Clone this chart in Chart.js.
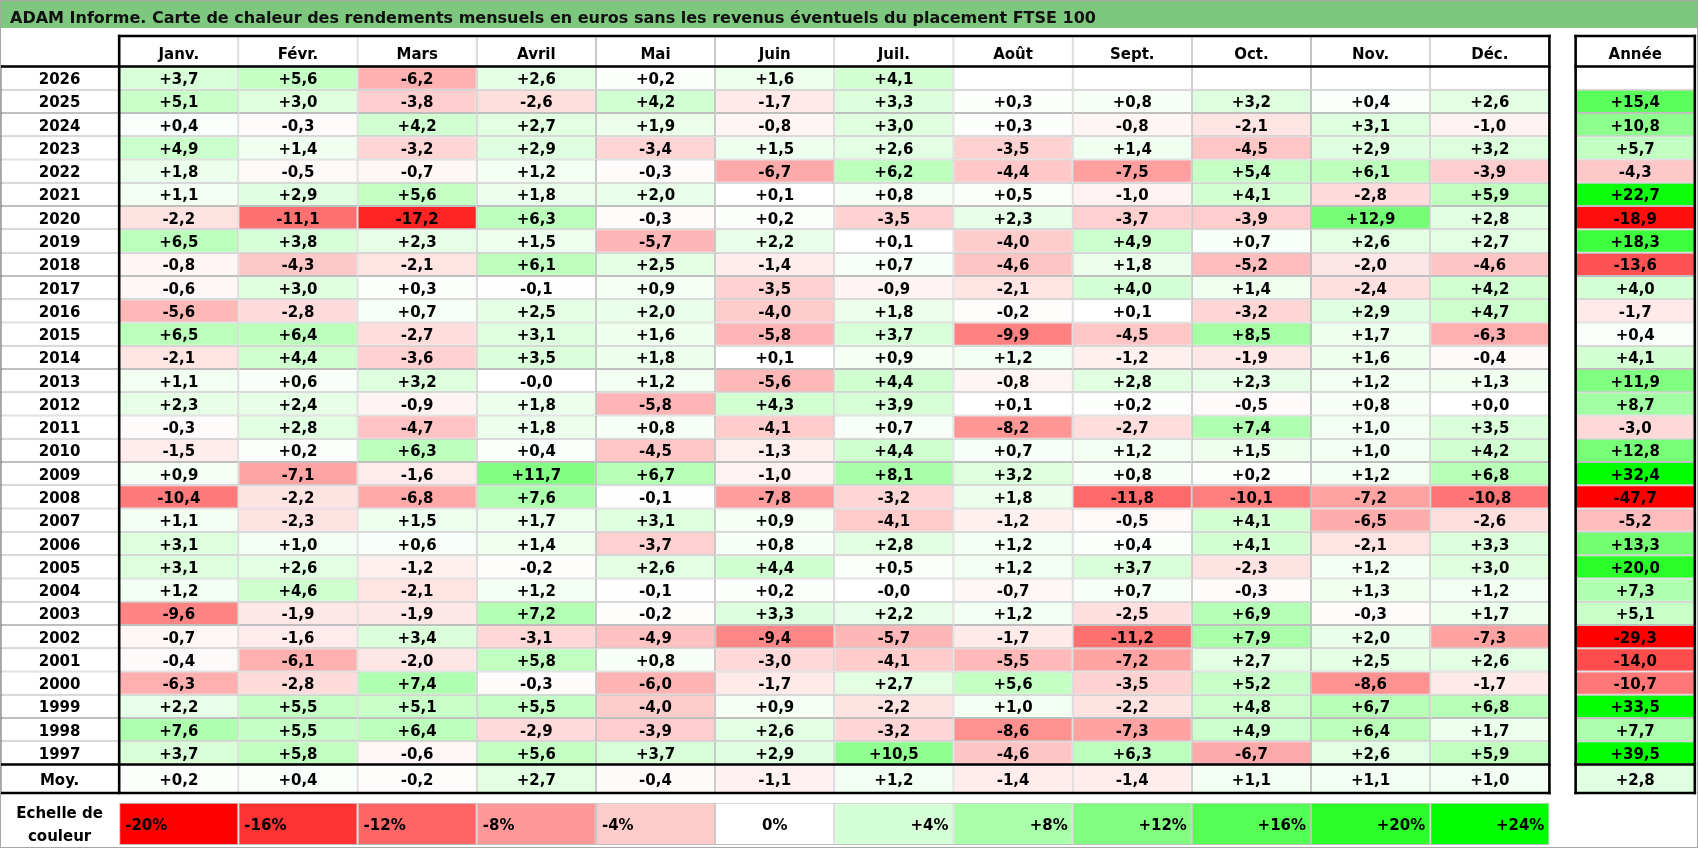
<!DOCTYPE html>
<html lang="fr">
<head>
<meta charset="utf-8">
<title>ADAM Informe - FTSE 100</title>
<script src="https://cdn.jsdelivr.net/npm/chart.js@4.4.1/dist/chart.umd.min.js"></script>
<style>
  html, body { margin: 0; padding: 0; background: #fff; }
  #wrap { width: 1698px; height: 848px; position: relative; }
</style>
</head>
<body>
<div id="wrap"><canvas id="heat"></canvas></div>
<script>
// Texts
const titleText = 'ADAM Informe. Carte de chaleur des rendements mensuels en euros sans les revenus éventuels du placement FTSE 100';
const months = ['Janv.', 'Févr.', 'Mars', 'Avril', 'Mai', 'Juin', 'Juil.', 'Août', 'Sept.', 'Oct.', 'Nov.', 'Déc.'];
const yearHeader = 'Année';
const avgLabel = 'Moy.';
const scaleLabel = 'Echelle de\ncouleur';

// Rows, newest first
const years = [
	2026, 2025, 2024, 2023, 2022, 2021, 2020, 2019, 2018, 2017,
	2016, 2015, 2014, 2013, 2012, 2011, 2010, 2009, 2008, 2007,
	2006, 2005, 2004, 2003, 2002, 2001, 2000, 1999, 1998, 1997,
];

// Monthly returns in %, one line per year (null = not yet known)
const monthly = [
	[3.7, 5.6, -6.2, 2.6, 0.2, 1.6, 4.1, null, null, null, null, null],
	[5.1, 3.0, -3.8, -2.6, 4.2, -1.7, 3.3, 0.3, 0.8, 3.2, 0.4, 2.6],
	[0.4, -0.3, 4.2, 2.7, 1.9, -0.8, 3.0, 0.3, -0.8, -2.1, 3.1, -1.0],
	[4.9, 1.4, -3.2, 2.9, -3.4, 1.5, 2.6, -3.5, 1.4, -4.5, 2.9, 3.2],
	[1.8, -0.5, -0.7, 1.2, -0.3, -6.7, 6.2, -4.4, -7.5, 5.4, 6.1, -3.9],
	[1.1, 2.9, 5.6, 1.8, 2.0, 0.1, 0.8, 0.5, -1.0, 4.1, -2.8, 5.9],
	[-2.2, -11.1, -17.2, 6.3, -0.3, 0.2, -3.5, 2.3, -3.7, -3.9, 12.9, 2.8],
	[6.5, 3.8, 2.3, 1.5, -5.7, 2.2, 0.1, -4.0, 4.9, 0.7, 2.6, 2.7],
	[-0.8, -4.3, -2.1, 6.1, 2.5, -1.4, 0.7, -4.6, 1.8, -5.2, -2.0, -4.6],
	[-0.6, 3.0, 0.3, -0.1, 0.9, -3.5, -0.9, -2.1, 4.0, 1.4, -2.4, 4.2],
	[-5.6, -2.8, 0.7, 2.5, 2.0, -4.0, 1.8, -0.2, 0.1, -3.2, 2.9, 4.7],
	[6.5, 6.4, -2.7, 3.1, 1.6, -5.8, 3.7, -9.9, -4.5, 8.5, 1.7, -6.3],
	[-2.1, 4.4, -3.6, 3.5, 1.8, 0.1, 0.9, 1.2, -1.2, -1.9, 1.6, -0.4],
	[1.1, 0.6, 3.2, -0.0, 1.2, -5.6, 4.4, -0.8, 2.8, 2.3, 1.2, 1.3],
	[2.3, 2.4, -0.9, 1.8, -5.8, 4.3, 3.9, 0.1, 0.2, -0.5, 0.8, 0.0],
	[-0.3, 2.8, -4.7, 1.8, 0.8, -4.1, 0.7, -8.2, -2.7, 7.4, 1.0, 3.5],
	[-1.5, 0.2, 6.3, 0.4, -4.5, -1.3, 4.4, 0.7, 1.2, 1.5, 1.0, 4.2],
	[0.9, -7.1, -1.6, 11.7, 6.7, -1.0, 8.1, 3.2, 0.8, 0.2, 1.2, 6.8],
	[-10.4, -2.2, -6.8, 7.6, -0.1, -7.8, -3.2, 1.8, -11.8, -10.1, -7.2, -10.8],
	[1.1, -2.3, 1.5, 1.7, 3.1, 0.9, -4.1, -1.2, -0.5, 4.1, -6.5, -2.6],
	[3.1, 1.0, 0.6, 1.4, -3.7, 0.8, 2.8, 1.2, 0.4, 4.1, -2.1, 3.3],
	[3.1, 2.6, -1.2, -0.2, 2.6, 4.4, 0.5, 1.2, 3.7, -2.3, 1.2, 3.0],
	[1.2, 4.6, -2.1, 1.2, -0.1, 0.2, -0.0, -0.7, 0.7, -0.3, 1.3, 1.2],
	[-9.6, -1.9, -1.9, 7.2, -0.2, 3.3, 2.2, 1.2, -2.5, 6.9, -0.3, 1.7],
	[-0.7, -1.6, 3.4, -3.1, -4.9, -9.4, -5.7, -1.7, -11.2, 7.9, 2.0, -7.3],
	[-0.4, -6.1, -2.0, 5.8, 0.8, -3.0, -4.1, -5.5, -7.2, 2.7, 2.5, 2.6],
	[-6.3, -2.8, 7.4, -0.3, -6.0, -1.7, 2.7, 5.6, -3.5, 5.2, -8.6, -1.7],
	[2.2, 5.5, 5.1, 5.5, -4.0, 0.9, -2.2, 1.0, -2.2, 4.8, 6.7, 6.8],
	[7.6, 5.5, 6.4, -2.9, -3.9, 2.6, -3.2, -8.6, -7.3, 4.9, 6.4, 1.7],
	[3.7, 5.8, -0.6, 5.6, 3.7, 2.9, 10.5, -4.6, 6.3, -6.7, 2.6, 5.9],
];

// Yearly returns in %
const annual = [
	null, 15.4, 10.8, 5.7, -4.3, 22.7, -18.9, 18.3, -13.6, 4.0,
	-1.7, 0.4, 4.1, 11.9, 8.7, -3.0, 12.8, 32.4, -47.7, -5.2,
	13.3, 20.0, 7.3, 5.1, -29.3, -14.0, -10.7, 33.5, 7.7, 39.5,
];

// Averages
const avgMonthly = [0.2, 0.4, -0.2, 2.7, -0.4, -1.1, 1.2, -1.4, -1.4, 1.1, 1.1, 1.0];
const avgAnnual = 2.8;

// Colour scale steps in %
const scaleSteps = [-20, -16, -12, -8, -4, 0, 4, 8, 12, 16, 20, 24];
const RED_END = -20;
const GREEN_END = 24;

// Layout, in column widths (x) and data row heights (y)
const X_MAX = 14.23;
const ANN_X = 13.22;
const Y_MIN = -1.654;
const Y_MAX = 33.5;
const HEAD_Y = -0.655;
const MOY_Y = 30.61;
const SCALE_Y = 32.55;
const HEAD_TOP = -1.311;
const MOY_BOTTOM = 31.22;

const FONT = 'bold 15px "DejaVu Sans"';

function heatColor(v) {
	if (v === null || v === undefined) return '#ffffff';
	let r = 255, g = 255, b = 255;
	if (v < 0) {
		const t = Math.min(v / RED_END, 1);
		g = b = Math.round(255 * (1 - t));
	} else {
		const t = Math.min(v / GREEN_END, 1);
		r = b = Math.round(255 * (1 - t));
	}
	return `rgb(${r},${g},${b})`;
}

function fmt(v) {
	if (v === null) return '';
	const sign = v < 0 || Object.is(v, -0) ? '-' : '+';
	return sign + Math.abs(v).toFixed(1).replace('.', ',');
}

function fmtStep(s) {
	return (s > 0 ? '+' : '') + s + '%';
}

const cell = (x0, x1, y, v, t, extra) => Object.assign({ x: [x0, x1], y: y, v: v, t: t }, extra);

// cells
const headerCells = months.map((m, i) => cell(i + 1, i + 2, HEAD_Y, null, m));
headerCells.push(cell(ANN_X, ANN_X + 1, HEAD_Y, null, yearHeader));

const yearCells = years.map((yr, r) => cell(0, 1, r + 0.5, null, String(yr)));

const monthCells = [];
years.forEach((yr, r) => {
	monthly[r].forEach((v, i) => monthCells.push(cell(i + 1, i + 2, r + 0.5, v, fmt(v))));
});

const annualCells = years.map((yr, r) => cell(ANN_X, ANN_X + 1, r + 0.5, annual[r], fmt(annual[r])));

const avgCells = [cell(0, 1, MOY_Y, null, avgLabel)];
avgMonthly.forEach((v, i) => avgCells.push(cell(i + 1, i + 2, MOY_Y, v, fmt(v))));
avgCells.push(cell(ANN_X, ANN_X + 1, MOY_Y, avgAnnual, fmt(avgAnnual)));

const scaleCells = [cell(0, 1, SCALE_Y, null, scaleLabel, { blank: true })];
scaleSteps.forEach((s, i) => {
	const align = s < 0 ? 'left' : s > 0 ? 'right' : 'center';
	scaleCells.push(cell(i + 1, i + 2, SCALE_Y, s, fmtStep(s), { align: align }));
});

const baseDataset = {
	type: 'bar',
	grouped: false,
	barPercentage: 1,
	categoryPercentage: 1,
	borderWidth: 1,
	borderSkipped: false,
	inflateAmount: 0,
	borderColor: (c) => (c.raw && c.raw.blank ? 'rgba(0,0,0,0)' : '#bfbfbf'),
	backgroundColor: (c) => (c.raw && c.raw.blank ? 'rgba(0,0,0,0)' : heatColor(c.raw ? c.raw.v : null)),
};

// Title bar and outer frame
const titleBar = {
	id: 'titleBar',
	beforeDraw(chart) {
		const ctx = chart.ctx;
		ctx.save();
		ctx.fillStyle = '#ffffff';
		ctx.fillRect(0, 0, chart.width, chart.height);
		ctx.fillStyle = '#7ec77e';
		ctx.fillRect(0, 0, chart.width - 1, 28);
		ctx.fillStyle = '#111111';
		ctx.font = 'bold 16px "DejaVu Sans"';
		ctx.textBaseline = 'alphabetic';
		ctx.fillText(titleText, 10, 23);
		ctx.restore();
	},
	afterDraw(chart) {
		const ctx = chart.ctx;
		ctx.save();
		ctx.strokeStyle = '#a6a6a6';
		ctx.lineWidth = 1;
		ctx.strokeRect(0.5, 0.5, chart.width - 1, chart.height - 1);
		ctx.restore();
	},
};

// Thick black table borders
const tableBorders = {
	id: 'tableBorders',
	afterDatasetsDraw(chart) {
		const { ctx, scales: { x, y } } = chart;
		const seg = (x0, y0, x1, y1) => {
			ctx.beginPath();
			ctx.moveTo(x.getPixelForValue(x0), y.getPixelForValue(y0));
			ctx.lineTo(x.getPixelForValue(x1), y.getPixelForValue(y1));
			ctx.stroke();
		};
		ctx.save();
		ctx.strokeStyle = '#000000';
		ctx.lineWidth = 2.6;
		ctx.lineCap = 'square';
		// months block
		seg(1, HEAD_TOP, 13, HEAD_TOP);
		seg(0, 0, 13, 0);
		seg(0, 30, 13, 30);
		seg(0, MOY_BOTTOM, 13, MOY_BOTTOM);
		seg(0, 0, 0, MOY_BOTTOM);
		seg(1, HEAD_TOP, 1, MOY_BOTTOM);
		seg(13, HEAD_TOP, 13, MOY_BOTTOM);
		// annual block
		[HEAD_TOP, 0, 30, MOY_BOTTOM].forEach((v) => seg(ANN_X, v, ANN_X + 1, v));
		seg(ANN_X, HEAD_TOP, ANN_X, MOY_BOTTOM);
		seg(ANN_X + 1, HEAD_TOP, ANN_X + 1, MOY_BOTTOM);
		ctx.restore();
	},
};

// Labels inside the cells
const cellText = {
	id: 'cellText',
	afterDatasetsDraw(chart) {
		const ctx = chart.ctx;
		ctx.save();
		ctx.fillStyle = '#000000';
		ctx.font = FONT;
		ctx.textBaseline = 'alphabetic';
		chart.data.datasets.forEach((ds, di) => {
			const shift = ds.textShift || 6;
			chart.getDatasetMeta(di).data.forEach((bar, i) => {
				const raw = ds.data[i];
				if (!raw || !raw.t) return;
				const p = bar.getProps(['x', 'y', 'base'], true);
				const left = Math.min(p.x, p.base);
				const right = Math.max(p.x, p.base);
				let tx = (left + right) / 2;
				ctx.textAlign = 'center';
				if (raw.align === 'left') {
					tx = left + 6;
					ctx.textAlign = 'left';
				} else if (raw.align === 'right') {
					tx = right - 5;
					ctx.textAlign = 'right';
				}
				const lines = raw.t.split('\n');
				lines.forEach((ln, k) => {
					ctx.fillText(ln, tx, p.y + shift + (k - (lines.length - 1) / 2) * 23);
				});
			});
		});
		ctx.restore();
	},
};

!(function () {
	const ctx = document.getElementById('heat');

	new Chart(ctx, {
		type: 'bar',
		data: {
			datasets: [
				Object.assign({}, baseDataset, { label: 'header', data: headerCells, barThickness: 30.5, textShift: 8 }),
				Object.assign({}, baseDataset, { label: 'years', data: yearCells }),
				Object.assign({}, baseDataset, { label: 'months', data: monthCells }),
				Object.assign({}, baseDataset, { label: 'annual', data: annualCells }),
				Object.assign({}, baseDataset, { label: 'average', data: avgCells, barThickness: 28.4 }),
				Object.assign({}, baseDataset, { label: 'scale', data: scaleCells, barThickness: 42.3 }),
			],
		},
		options: {
			indexAxis: 'y',
			responsive: true,
			maintainAspectRatio: false,
			animation: false,
			events: [],
			layout: {
				padding: { top: 28, right: 2, bottom: 2, left: 0 },
			},
			scales: {
				x: { type: 'linear', min: 0, max: X_MAX, display: false, offset: false },
				y: { type: 'linear', min: Y_MIN, max: Y_MAX, reverse: true, display: false, offset: false, ticks: { stepSize: 10 } },
			},
			plugins: {
				legend: { display: false },
				tooltip: { enabled: false },
				title: { display: false },
			},
		},
		plugins: [titleBar, tableBorders, cellText],
	});
})();
</script>
</body>
</html>
